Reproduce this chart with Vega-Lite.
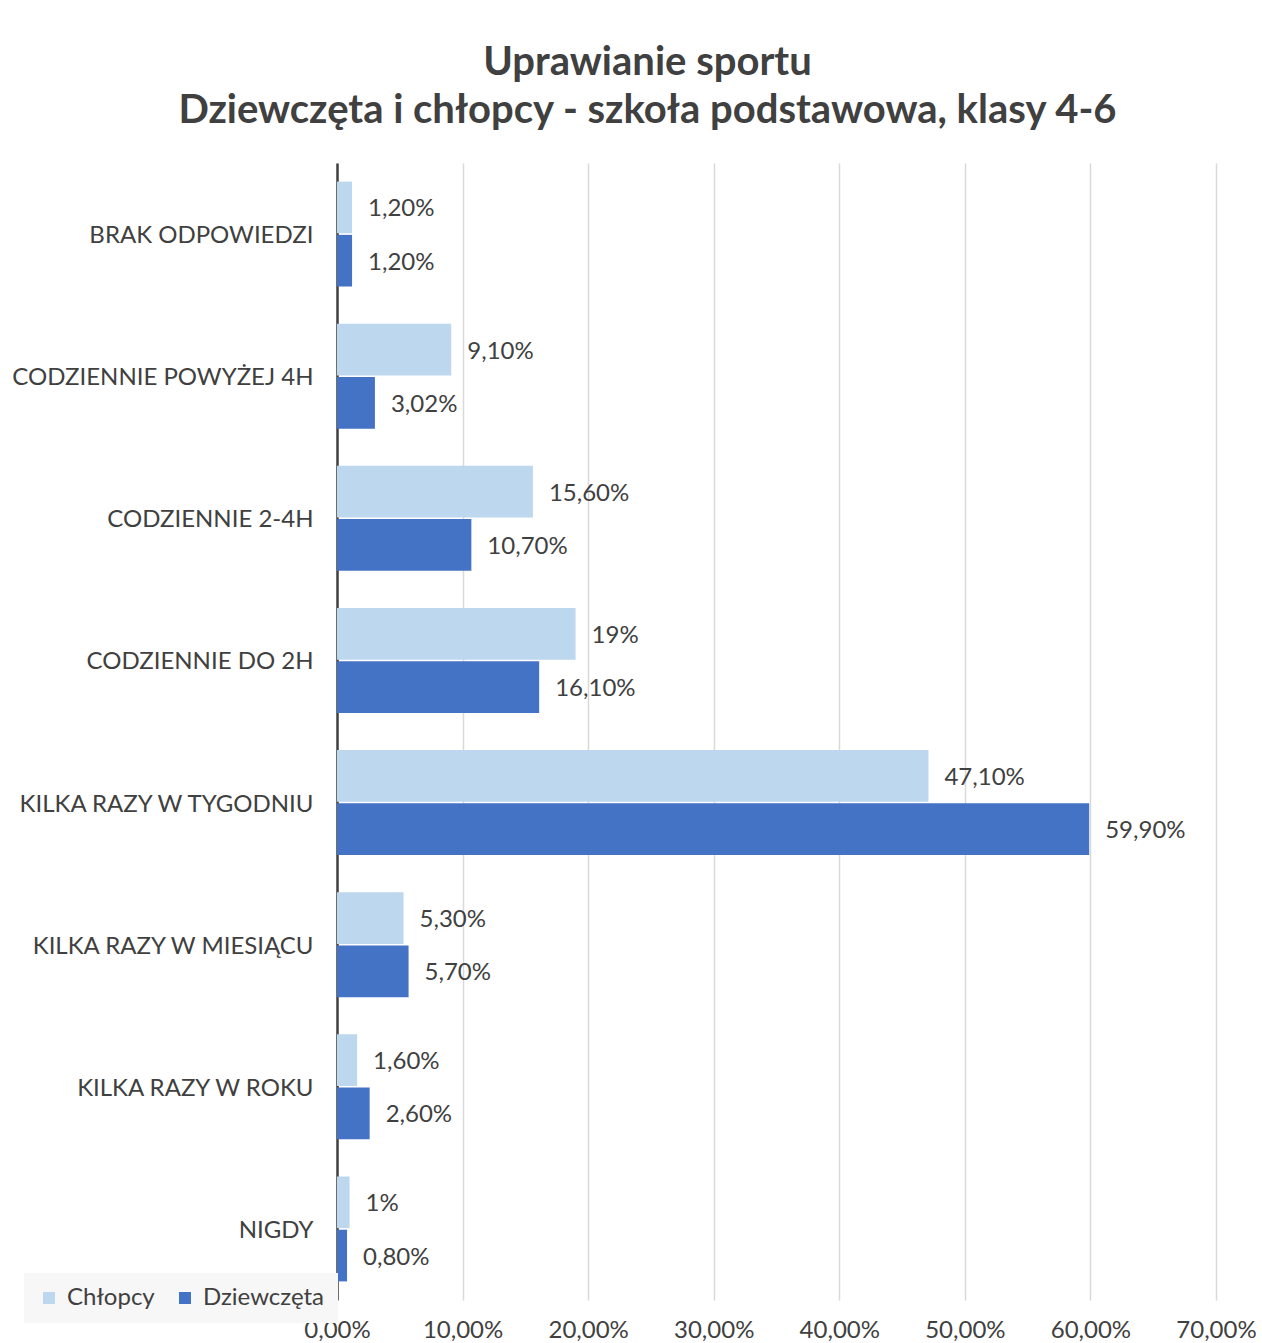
{
  "$schema": "https://vega.github.io/schema/vega-lite/v6.json",
  "autosize": {"type": "none"},
  "padding": {"left": 337, "top": 163, "right": 46, "bottom": 43},
  "width": 879,
  "height": 1137,
  "background": "white",
  "config": {
    "font": "Lato",
    "locale": {"number": {"decimal": ",", "thousands": " ", "grouping": [3], "currency": ["", " zł"]}},
    "view": {"stroke": null}
  },
  "title": {
    "text": ["Uprawianie sportu", "Dziewczęta i chłopcy - szkoła podstawowa, klasy 4-6"],
    "font": "Lato",
    "fontSize": 40,
    "fontWeight": "bold",
    "color": "#404040",
    "lineHeight": 48,
    "anchor": "middle",
    "frame": "group",
    "dx": -129,
    "offset": 32
  },
  "data": {
    "values": [
      {"kategoria": "BRAK ODPOWIEDZI", "grupa": "Chłopcy", "wartosc": 0.012, "etykieta": "1,20%"},
      {"kategoria": "BRAK ODPOWIEDZI", "grupa": "Dziewczęta", "wartosc": 0.012, "etykieta": "1,20%"},
      {"kategoria": "CODZIENNIE POWYŻEJ 4H", "grupa": "Chłopcy", "wartosc": 0.091, "etykieta": "9,10%"},
      {"kategoria": "CODZIENNIE POWYŻEJ 4H", "grupa": "Dziewczęta", "wartosc": 0.0302, "etykieta": "3,02%"},
      {"kategoria": "CODZIENNIE 2-4H", "grupa": "Chłopcy", "wartosc": 0.156, "etykieta": "15,60%"},
      {"kategoria": "CODZIENNIE 2-4H", "grupa": "Dziewczęta", "wartosc": 0.107, "etykieta": "10,70%"},
      {"kategoria": "CODZIENNIE DO 2H", "grupa": "Chłopcy", "wartosc": 0.19, "etykieta": "19%"},
      {"kategoria": "CODZIENNIE DO 2H", "grupa": "Dziewczęta", "wartosc": 0.161, "etykieta": "16,10%"},
      {"kategoria": "KILKA RAZY W TYGODNIU", "grupa": "Chłopcy", "wartosc": 0.471, "etykieta": "47,10%"},
      {"kategoria": "KILKA RAZY W TYGODNIU", "grupa": "Dziewczęta", "wartosc": 0.599, "etykieta": "59,90%"},
      {"kategoria": "KILKA RAZY W MIESIĄCU", "grupa": "Chłopcy", "wartosc": 0.053, "etykieta": "5,30%"},
      {"kategoria": "KILKA RAZY W MIESIĄCU", "grupa": "Dziewczęta", "wartosc": 0.057, "etykieta": "5,70%"},
      {"kategoria": "KILKA RAZY W ROKU", "grupa": "Chłopcy", "wartosc": 0.016, "etykieta": "1,60%"},
      {"kategoria": "KILKA RAZY W ROKU", "grupa": "Dziewczęta", "wartosc": 0.026, "etykieta": "2,60%"},
      {"kategoria": "NIGDY", "grupa": "Chłopcy", "wartosc": 0.01, "etykieta": "1%"},
      {"kategoria": "NIGDY", "grupa": "Dziewczęta", "wartosc": 0.008, "etykieta": "0,80%"}
    ]
  },
  "encoding": {
    "y": {
      "field": "kategoria",
      "type": "nominal",
      "sort": ["BRAK ODPOWIEDZI", "CODZIENNIE POWYŻEJ 4H", "CODZIENNIE 2-4H", "CODZIENNIE DO 2H", "KILKA RAZY W TYGODNIU", "KILKA RAZY W MIESIĄCU", "KILKA RAZY W ROKU", "NIGDY"],
      "scale": {"paddingInner": 0.262, "paddingOuter": 0.131},
      "axis": {
        "title": null,
        "domain": true,
        "domainColor": "#404040",
        "domainWidth": 2.5,
        "ticks": false,
        "labelPadding": 24,
        "labelFontSize": 24,
        "labelColor": "#404040",
        "labelFont": "Lato",
        "labelLimit": 0,
        "labelOffset": 2,
        "grid": false
      }
    },
    "yOffset": {
      "field": "grupa",
      "type": "nominal",
      "sort": ["Chłopcy", "Dziewczęta"],
      "scale": {"paddingInner": 0.03}
    },
    "x": {
      "field": "wartosc",
      "type": "quantitative",
      "scale": {"domain": [0, 0.7], "nice": false},
      "axis": {
        "title": null,
        "values": [0, 0.1, 0.2, 0.3, 0.4, 0.5, 0.6, 0.7],
        "format": ".2%",
        "domain": false,
        "ticks": false,
        "grid": true,
        "gridColor": "#d9d9d9",
        "gridWidth": 1.5,
        "labelFontSize": 24,
        "labelColor": "#404040",
        "labelFont": "Lato",
        "labelFlush": false,
        "labelOverlap": false,
        "labelAlign": "center",
        "labelPadding": 18
      }
    }
  },
  "layer": [
    {
      "mark": {"type": "bar"},
      "encoding": {
        "color": {
          "field": "grupa",
          "type": "nominal",
          "sort": ["Chłopcy", "Dziewczęta"],
          "scale": {"domain": ["Chłopcy", "Dziewczęta"], "range": ["#BDD7EE", "#4472C4"]},
          "legend": {
            "title": null,
            "orient": "none",
            "legendX": -313,
            "legendY": 1110,
            "direction": "horizontal",
            "fillColor": "#f7f7f7",
            "padding": 13,
            "symbolType": "square",
            "symbolSize": 144,
            "symbolStrokeWidth": 0,
            "labelFontSize": 24,
            "labelColor": "#404040",
            "labelFont": "Lato",
            "columnPadding": 18,
            "labelOffset": 6
          }
        }
      }
    },
    {
      "mark": {"type": "text", "align": "left", "baseline": "middle", "dx": 16, "dy": 2, "fontSize": 24, "color": "#404040", "font": "Lato"},
      "encoding": {
        "text": {"field": "etykieta", "type": "nominal"}
      }
    }
  ]
}
